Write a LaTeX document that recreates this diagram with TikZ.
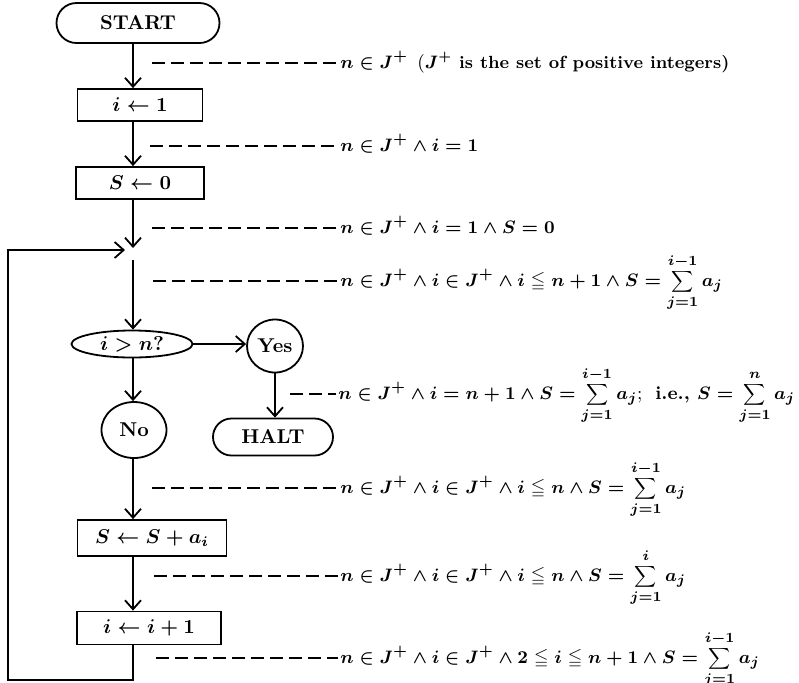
\documentclass[tikz,border=0pt]{standalone}
\usepackage{amsmath,amssymb}
\usetikzlibrary{arrows.meta,shapes.geometric,shapes.misc}
\newcommand{\Sm}[2]{\mathop{\vcenter{\hbox{\scalebox{0.8}{$\displaystyle\sum$}}}}\limits_{#1}^{#2}}
\tikzset{
  box/.style={draw, line width=0.9pt, rectangle, inner sep=0pt, font=\boldmath},
  term/.style={draw, line width=0.9pt, rounded rectangle, inner sep=0pt, font=\bfseries},
  oval/.style={draw, line width=0.9pt, ellipse, inner sep=0pt, font=\bfseries},
  flow/.style={line width=0.9pt, -{Straight Barb[length=4.5pt,width=8pt,line width=0.9pt]}},
  dashline/.style={line width=0.6pt, dash pattern=on 6.5pt off 3pt},
  cond/.style={anchor=base west, inner sep=0pt, font=\fontsize{9.3}{11}\selectfont\boldmath}
}
\begin{document}
\begin{tikzpicture}[x=0.5pt,y=-0.5pt]
\useasboundingbox (0,0) rectangle (799,682);
% nodes
\node[term, minimum width=81.5pt, minimum height=20pt] (start) at (138,23) {START};
\node[box, minimum width=62.5pt, minimum height=16pt] (i1) at (140,105) {$i\leftarrow 1$};
\node[box, minimum width=64pt, minimum height=16pt] (s0) at (140,183) {$S\leftarrow 0$};
\node[oval, minimum width=60.5pt, minimum height=13.5pt, font=\boldmath] (dec) at (132,344) {$i>n?$};
\node[oval, minimum width=28pt, minimum height=26.5pt] (yes) at (275,346) {Yes};
\node[term, minimum width=60pt, minimum height=18.5pt] (halt) at (273,437) {HALT};
\node[oval, minimum width=32.5pt, minimum height=28pt] (no) at (134,430) {No};
\node[box, minimum width=74.5pt, minimum height=18pt] (sa) at (152,538) {$S\leftarrow S+a_i$};
\node[box, minimum width=72pt, minimum height=16.5pt] (inc) at (149,628) {$i\leftarrow i+1$};
% column coordinates
\coordinate (m1) at (133,248);
\coordinate (m1l) at (125,250);
\coordinate (m2) at (133,260);
\coordinate (c1) at (133,680);
\coordinate (c2) at (8,680);
\coordinate (c3) at (8,250);
% connectors
\draw[flow] (start.south -| m1) -- (i1.north -| m1);
\draw[flow] (i1.south -| m1) -- (s0.north -| m1);
\draw[flow] (s0.south -| m1) -- (m1);
\draw[flow] (m2) -- (dec.north -| m2);
\draw[flow] (dec.east) -- (yes.west |- dec.east);
\draw[flow] (yes.south) -- (yes.south |- halt.north);
\draw[flow] (dec.south -| m1) -- (no.north -| m1);
\draw[flow] (no.south -| m1) -- (sa.north -| m1);
\draw[flow] (sa.south -| m1) -- (inc.north -| m1);
\draw[flow] (inc.south -| m1) -- (c1) -- (c2) -- (c3) -- (m1l);
% conditions
\node[cond] (t1) at (340,68) {$n\in J^+$\enspace(\bfseries\fontsize{8.8}{11}\selectfont$J^+$ is the set of positive integers)};
\node[cond] (t2) at (340,151) {$n\in J^+\wedge i=1$};
\node[cond] (t3) at (340,233) {$n\in J^+\wedge i=1\wedge S=0$};
\node[cond] (t4) at (340,286) {$n\in J^+\wedge i\in J^+\wedge i\leqq n+1\wedge S=\Sm{j=1}{i-1}a_j$};
\node[cond] (t5) at (338,399) {$n\in J^+\wedge i=n+1\wedge S=\Sm{j=1}{i-1}a_j$;\ \ \bfseries i.e., $S=\Sm{j=1}{n}a_j$};
\node[cond] (t6) at (340,493) {$n\in J^+\wedge i\in J^+\wedge i\leqq n\wedge S=\Sm{j=1}{i-1}a_j$};
\node[cond] (t7) at (340,581) {$n\in J^+\wedge i\in J^+\wedge i\leqq n\wedge S=\Sm{j=1}{i}a_j$};
\node[cond] (t8) at (340,663) {$n\in J^+\wedge i\in J^+\wedge 2\leqq i\leqq n+1\wedge S=\Sm{j=1}{i-1}a_j$};
\coordinate (d1) at (152,63);
\coordinate (d2) at (150,146);
\coordinate (d3) at (152,228);
\coordinate (d4) at (153,281);
\coordinate (d5) at (290,394);
\coordinate (d6) at (152,488);
\coordinate (d7) at (154,576);
\coordinate (d8) at (156,658);
\foreach \k in {1,...,8}{
  \draw[dashline] (d\k) -- ([xshift=-1pt]d\k -| t\k.base west);
}
\end{tikzpicture}
\end{document}
